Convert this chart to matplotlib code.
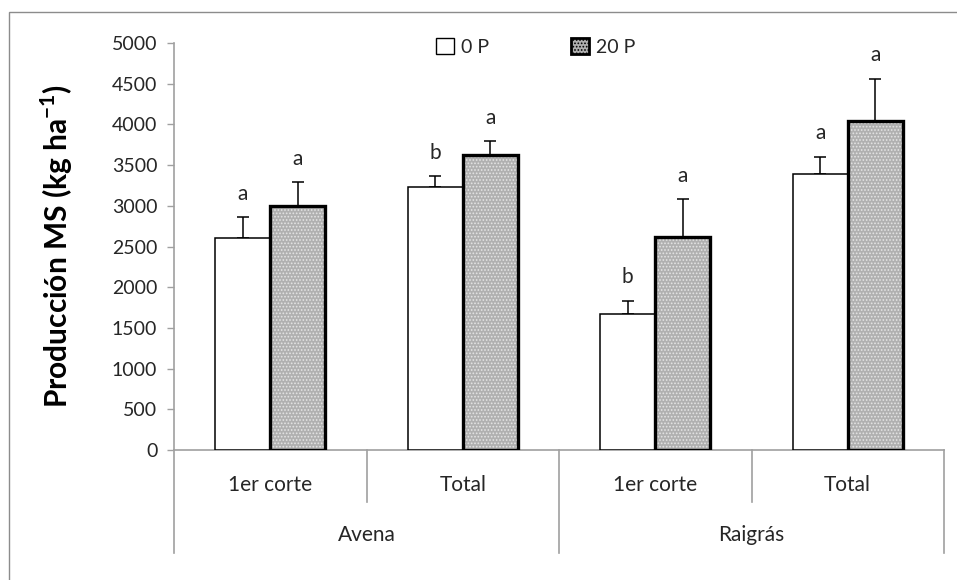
import matplotlib
matplotlib.use('Agg')
import matplotlib.pyplot as plt
from matplotlib.patches import Patch, Rectangle
from matplotlib.lines import Line2D
import numpy as np

# ------------------ DATA ------------------
cortes = ['1er corte', 'Total', '1er corte', 'Total']
especies = ['Avena', 'Raigrás']
series_names = ['0 P', '20 P']

prod_0p = [2600, 3230, 1670, 3390]      # kg MS/ha
err_0p = [260, 130, 160, 210]
letras_0p = ['a', 'b', 'b', 'a']

prod_20p = [3000, 3620, 2620, 4040]
err_20p = [290, 170, 460, 520]
letras_20p = ['a', 'a', 'a', 'a']
# ------------------------------------------

FONT = 'Lato'
plt.rcParams['font.family'] = [FONT, 'DejaVu Sans']
plt.rcParams['mathtext.fontset'] = 'custom'
plt.rcParams['mathtext.rm'] = FONT
plt.rcParams['mathtext.bf'] = FONT + ':bold'
plt.rcParams['hatch.linewidth'] = 0.8

W, H = 957, 580
fig = plt.figure(figsize=(W / 100, H / 100), dpi=100)

# plot area in pixel coords
x0, x1, ytop, ybot = 174, 944, 43, 450
ax = fig.add_axes([x0 / W, 1 - ybot / H, (x1 - x0) / W, (ybot - ytop) / H])

# chart frame (only left and top edges fall inside the image)
fig.patches.append(Rectangle((9 / W, -0.1), 1.2, 1 - 12 / H + 0.1, transform=fig.transFigure,
                             fill=False, edgecolor='#8c8c8c', linewidth=1.0))

x = np.arange(len(cortes))
bw = 0.2857
grey = '#b0b0b0'
txt_col = '#262626'
fs = 14

# 0 P bars: white, thin outline
ax.bar(x - bw / 2, prod_0p, bw, color='white', edgecolor='black', linewidth=1.1, zorder=3)
# 20 P bars: grey dotted pattern + heavy outline
ax.bar(x + bw / 2, prod_20p, bw, color=grey, edgecolor='#e4e4e4', hatch='.....',
       linewidth=0, zorder=3)
ax.bar(x + bw / 2, prod_20p, bw, fill=False, edgecolor='black', linewidth=2.4, zorder=4)

# upper error bars only
for xs, vals, errs in [(x - bw / 2, prod_0p, err_0p), (x + bw / 2, prod_20p, err_20p)]:
    ax.errorbar(xs, vals, yerr=[np.zeros(len(errs)), errs], fmt='none', ecolor='black',
                elinewidth=1.1, capsize=4.3, capthick=1.1, zorder=2)

# significance letters above error bars
for xs, vals, errs, lets in [(x - bw / 2, prod_0p, err_0p, letras_0p),
                             (x + bw / 2, prod_20p, err_20p, letras_20p)]:
    for xi, v, e, l in zip(xs, vals, errs, lets):
        ax.annotate(l, (xi, v + e), xytext=(0, 17), textcoords='offset points',
                    ha='center', va='center', fontsize=fs + 1, color=txt_col)

ax.set_xlim(-0.5, 3.5)
ax.set_ylim(0, 5000)
ax.set_yticks(np.arange(0, 5001, 500))
ax.tick_params(axis='y', length=5, width=1, color='#a0a0a0', pad=7, labelsize=fs,
               labelcolor=txt_col)
ax.set_xticks([])
for s in ['top', 'right']:
    ax.spines[s].set_visible(False)
for s in ['left', 'bottom']:
    ax.spines[s].set_color('#a0a0a0')
    ax.spines[s].set_linewidth(1.2)

ax.set_ylabel('Producción MS (kg ha$^{\\mathbf{-1}}$)', fontsize=21.5, fontweight='bold',
              color='black')
ax.yaxis.set_label_coords(-0.128, 0.5)

# two-level category axis below the plot
trans = ax.get_xaxis_transform()
sep_col = '#a0a0a0'
lvl1 = -(502 - ybot) / (ybot - ytop)
lvl2 = -(553 - ybot) / (ybot - ytop)
for b in [-0.5, 1.5, 3.5]:
    ax.add_line(Line2D([b, b], [0, lvl2], transform=trans, color=sep_col, lw=1.2, clip_on=False))
for b in [0.5, 2.5]:
    ax.add_line(Line2D([b, b], [0, lvl1], transform=trans, color=sep_col, lw=1.2, clip_on=False))
for xi, c in zip(x, cortes):
    ax.text(xi, -(485 - ybot) / (ybot - ytop), c, transform=trans, ha='center', va='center',
            fontsize=fs + 1, color=txt_col)
for i, e in enumerate(especies):
    ax.text(2 * i + 0.5, -(535 - ybot) / (ybot - ytop), e, transform=trans, ha='center',
            va='center', fontsize=fs + 1, color=txt_col)

# legend
h0 = Patch(facecolor='white', edgecolor='black', linewidth=1.0)
h1 = Patch(facecolor=grey, edgecolor='black', hatch='.....', linewidth=2.0)
ax.legend([h0, h1], series_names, loc='center', bbox_to_anchor=(0.47, 0.99), ncol=2,
          frameon=False, fontsize=fs, handlelength=0.9, handleheight=0.9,
          handletextpad=0.4, columnspacing=4.2, labelcolor=txt_col)

fig.savefig('out.png', dpi=100)
